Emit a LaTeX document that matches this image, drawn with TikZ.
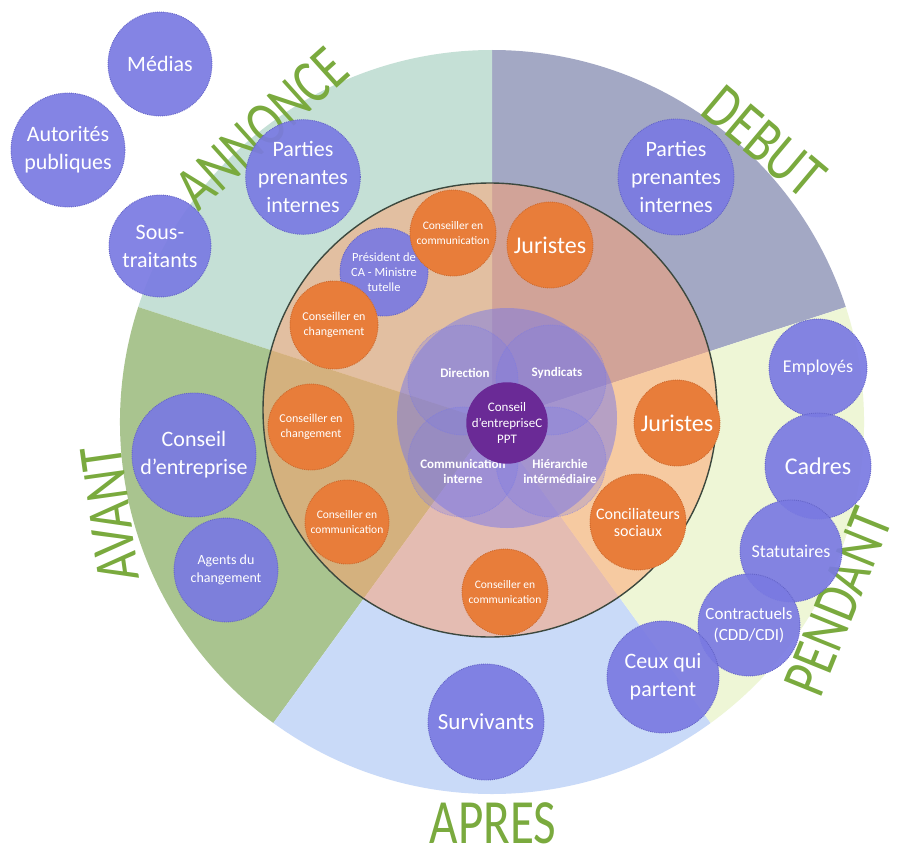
\documentclass[tikz,border=0pt]{standalone}
\usepackage{fontspec}
\setmainfont{Carlito}
\newfontfamily\labfont[FakeStretch=0.78]{Carlito}
\definecolor{cannonce}{RGB}{197,224,214}
\definecolor{cdebut}{RGB}{163,168,196}
\definecolor{cpendant}{RGB}{238,246,214}
\definecolor{capres}{RGB}{201,218,248}
\definecolor{cavant}{RGB}{169,196,143}
\definecolor{cinner}{RGB}{255,160,110}
\definecolor{cring}{RGB}{60,72,62}
\definecolor{cblue}{RGB}{122,122,226}
\definecolor{cblueD}{RGB}{100,100,200}
\definecolor{corange}{RGB}{232,125,58}
\definecolor{corangeD}{RGB}{205,105,45}
\definecolor{cpurple}{RGB}{106,42,150}
\definecolor{clav}{RGB}{120,120,232}
\definecolor{labgreen}{RGB}{122,170,62}
\tikzset{
  bcirc/.style={circle, fill=cblue, fill opacity=0.92, text opacity=1, draw=cblueD, densely dotted, line width=0.9pt, text=white, align=center, inner sep=0pt, minimum size=#1},
  ocirc/.style={circle, fill=corange, draw=corangeD, densely dotted, line width=0.9pt, text=white, align=center, inner sep=0pt, minimum size=#1},
  lcirc/.style={circle, fill=clav, fill opacity=0.28, draw=clav, draw opacity=0.5, densely dotted, line width=0.8pt, inner sep=0pt, minimum size=#1},
  biglab/.style={text=labgreen, font=\labfont\fontsize{63}{63}\selectfont, inner sep=0pt},
  tbig/.style={font=\fontsize{22}{28}\selectfont},
  tjur/.style={font=\fontsize{24}{28}\selectfont},
  tmid/.style={font=\fontsize{18}{21}\selectfont},
  tsm/.style={font=\fontsize{12}{15}\selectfont},
  tin/.style={font=\bfseries\fontsize{13}{15}\selectfont, text=white, align=center, inner sep=0pt},
}
\begin{document}
\begin{tikzpicture}[x=1pt,y=-1pt]
\useasboundingbox (0,0) rectangle (901,848);
\fill[white] (0,0) rectangle (901,848);
% sectors
\coordinate (O) at (492,422);
\fill[cdebut] (O) -- ++(-18:372) arc[start angle=-18, end angle=-90, radius=372] -- cycle;
\fill[cannonce] (O) -- ++(-90:372) arc[start angle=-90, end angle=-162, radius=372] -- cycle;
\fill[cavant] (O) -- ++(-162:372) arc[start angle=-162, end angle=-234, radius=372] -- cycle;
\fill[capres] (O) -- ++(126:372) arc[start angle=126, end angle=54, radius=372] -- cycle;
\fill[cpendant] (O) -- ++(54:372) arc[start angle=54, end angle=-18, radius=372] -- cycle;
% inner ring
\coordinate (I) at (490,410);
\fill[cinner, fill opacity=0.5] (I) circle[radius=227];
\draw[cring, line width=1.4pt] (I) circle[radius=227];
% phase labels
\node[biglab, rotate=42] (lannonce) at (262,128) {ANNONCE};
\node[biglab, rotate=-40] (ldebut) at (764,142) {DEBUT};
\node[biglab, rotate=68] (lpendant) at (838,602) {PENDANT};
\node[biglab, rotate=98] (lavant) at (110,514) {AVANT};
\node[biglab] (lapres) at (493,823) {APRES};
% outer stakeholder circles
\node[bcirc=104pt, tbig] (med) at (160,64) {Médias};
\node[bcirc=114pt, tbig] (aut) at (68,150) {Autorités\\publiques};
\node[bcirc=102pt, tbig] (sous) at (160,246) {Sous-\\traitants};
\node[bcirc=114pt, tbig] (ppa) at (303,177) {Parties\\prenantes\\internes};
\node[bcirc=116pt, tbig] (ppd) at (676,177) {Parties\\prenantes\\internes};
\node[bcirc=124pt, tbig] (cde) at (194,455) {Conseil\\d’entreprise};
\node[bcirc=104pt, font=\fontsize{14}{18}\selectfont] (agents) at (226,570) {Agents du\\changement};
\node[bcirc=116pt, font=\fontsize{23}{28}\selectfont] (surv) at (486,722) {Survivants};
\node[bcirc=98pt, tmid] (empl) at (818,368) {Employés};
\node[bcirc=106pt, tjur] (cadres) at (818,466) {Cadres};
\node[bcirc=102pt, tmid] (stat) at (791,551) {Statutaires};
\node[bcirc=102pt, font=\fontsize{17}{21}\selectfont] (contr) at (749,625) {Contractuels\\(CDD/CDI)};
\node[bcirc=112pt, tbig] (ceux) at (663,677) {Ceux qui\\partent};
% inner ring circles
\node[bcirc=88pt, font=\fontsize{12.5}{15}\selectfont] (pres) at (384,272) {Président de\\CA - Ministre\\tutelle};
\node[ocirc=86pt, font=\fontsize{11.5}{15}\selectfont] (cc1) at (453,233) {Conseiller en\\communication};
\node[ocirc=86pt, tjur] (jur1) at (550,245) {Juristes};
\node[ocirc=88pt, tsm] (cch1) at (334,325) {Conseiller en\\changement};
\node[ocirc=86pt, tsm] (cch2) at (311,427) {Conseiller en\\changement};
\node[ocirc=84pt, font=\fontsize{11.5}{15}\selectfont] (cc2) at (347,522) {Conseiller en\\communication};
\node[ocirc=86pt, font=\fontsize{11.5}{15}\selectfont] (cc3) at (505,592) {Conseiller en\\communication};
\node[ocirc=96pt, font=\fontsize{16}{17}\selectfont] (concil) at (638,522) {Conciliateurs\\sociaux};
\node[ocirc=86pt, tjur] (jur2) at (677,423) {Juristes};
% core group
\node[circle, fill=clav, fill opacity=0.5, minimum size=220pt, inner sep=0pt] (core) at (507,418) {};
\node[lcirc=110pt] (cdir) at (463,380) {};
\node[lcirc=110pt] (csyn) at (551,380) {};
\node[lcirc=110pt] (ccom) at (463,462) {};
\node[lcirc=110pt] (chie) at (551,462) {};
\node[tin] (tdir) at (465,373) {Direction};
\node[tin] (tsyn) at (557,373) {Syndicats};
\node[tin] (tcom) at (463,471) {Communication\\interne};
\node[tin] (thie) at (560,471) {Hiérarchie\\intérmédiaire};
\node[circle, fill=cpurple, minimum size=74pt, inner sep=0pt, text=white, align=center, font=\fontsize{13}{16}\selectfont] (cppt) at (507,423) {Conseil\\d’entrepriseC\\PPT};
\end{tikzpicture}
\end{document}
